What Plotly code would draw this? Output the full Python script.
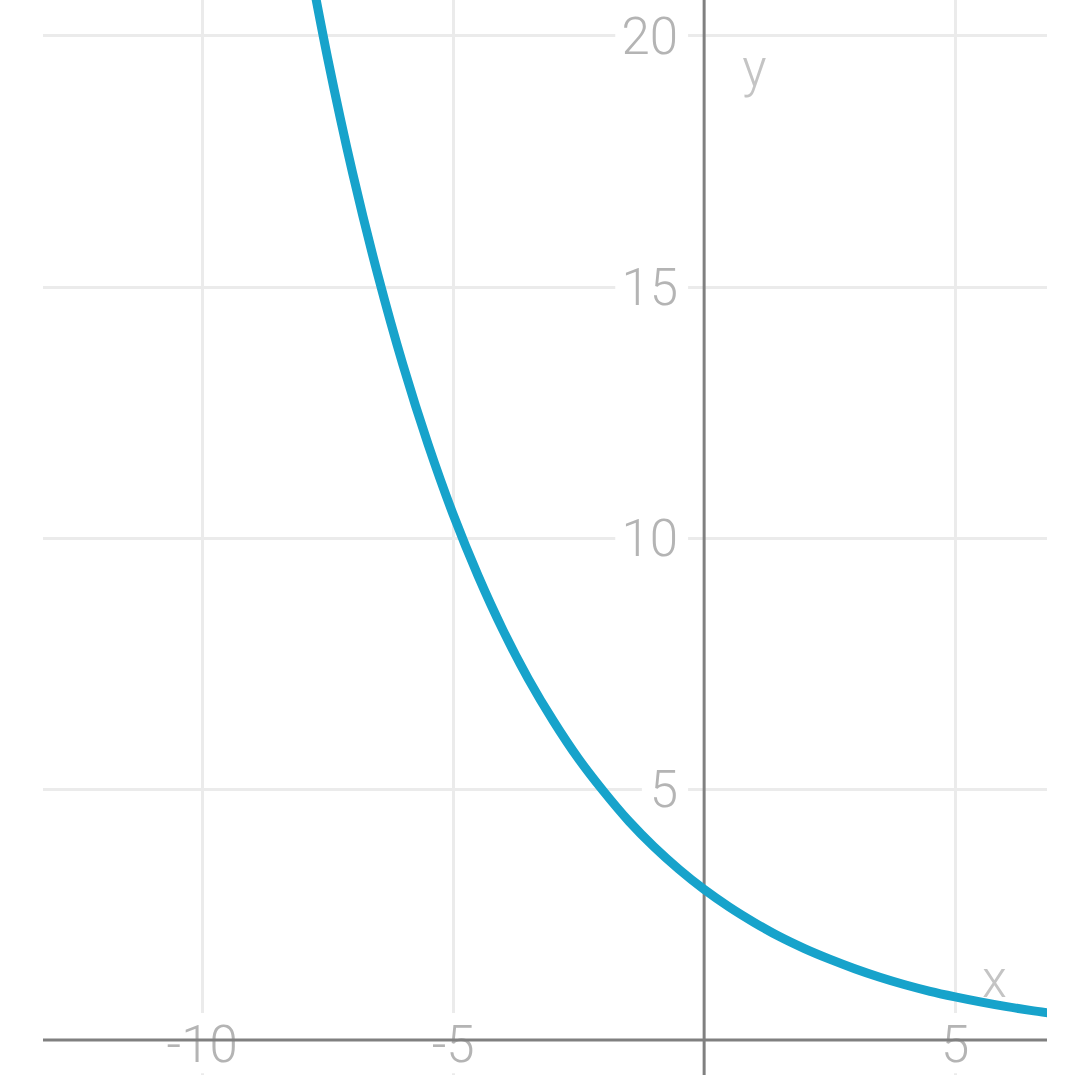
import plotly.graph_objects as go

# Curve values
x_vals = [-8.0, -7.5, -7.0, -6.5, -6.0, -5.5, -5.0, -4.5, -4.0, -3.5, -3.0, -2.5, -2.0, -1.5,
          -1.0, -0.5, 0.0, 0.5, 1.0, 1.5, 2.0, 2.5, 3.0, 3.5, 4.0, 4.5, 5.0, 5.5, 6.0, 6.5, 7.0]
y_vals = [22.17, 19.56, 17.26, 15.24, 13.45, 11.87, 10.47, 9.24, 8.15, 7.19, 6.35, 5.60, 4.95, 4.36,
          3.85, 3.40, 3.00, 2.65, 2.34, 2.06, 1.82, 1.61, 1.42, 1.25, 1.10, 0.97, 0.86, 0.76, 0.67, 0.59, 0.52]

x_ticks = [-10, -5, 5]
x_tick_labels = ["-10", "-5", "5"]
y_ticks = [5, 10, 15, 20]
y_tick_labels = ["5", "10", "15", "20"]

x_range = [-13.17, 6.83]
y_range = [-0.697, 20.717]

FONT = "Roboto"
TICK_COLOR = "#b4b4b4"
AXIS_COLOR = "#808080"
GRID_COLOR = "#ebebeb"
CURVE_COLOR = "#17a3cb"
FS = 51

fig = go.Figure()

# tick labels
fig.add_trace(go.Scatter(
    x=x_ticks, y=[-0.19] * len(x_ticks), mode="text", text=x_tick_labels,
    textposition="middle center",
    textfont=dict(family=FONT, size=FS, color=TICK_COLOR, weight=300),
    hoverinfo="skip", showlegend=False, cliponaxis=False))
fig.add_trace(go.Scatter(
    x=[-0.52] * len(y_ticks), y=[v - 0.1 for v in y_ticks], mode="text", text=y_tick_labels,
    textposition="middle left",
    textfont=dict(family=FONT, size=FS, color=TICK_COLOR, weight=300),
    hoverinfo="skip", showlegend=False, cliponaxis=False))
# "0" label: sits just below the visible range and is cut by the bottom edge, as in the picture
fig.add_trace(go.Scatter(
    x=[-0.52], y=[-0.87], mode="text", text=["0"], textposition="middle left",
    textfont=dict(family=FONT, size=FS, color=TICK_COLOR, weight=300),
    hoverinfo="skip", showlegend=False, cliponaxis=True))
# axis titles
fig.add_trace(go.Scatter(
    x=[1.0, 5.78], y=[19.25, 1.12], mode="text", text=["y", "x"],
    textposition="middle center",
    textfont=dict(family=FONT, size=FS, color="#c4c4c4", weight=300),
    hoverinfo="skip", showlegend=False))

# axis lines
fig.add_trace(go.Scatter(x=x_range, y=[0, 0], mode="lines",
                         line=dict(color=AXIS_COLOR, width=3),
                         hoverinfo="skip", showlegend=False))
fig.add_trace(go.Scatter(x=[0, 0], y=y_range, mode="lines",
                         line=dict(color=AXIS_COLOR, width=3),
                         hoverinfo="skip", showlegend=False))

# curve
fig.add_trace(go.Scatter(x=x_vals, y=y_vals, mode="lines",
                         line=dict(color=CURVE_COLOR, width=9, shape="spline", smoothing=1.0),
                         hoverinfo="skip", showlegend=False))

# white masks behind tick labels (hide gridlines)
shapes = []
for t in x_ticks:
    shapes.append(dict(type="rect", xref="x", yref="y", layer="between",
                       x0=t - 0.3, x1=t + 0.3, y0=-0.66, y1=0.54,
                       fillcolor="white", line=dict(width=0)))
for t, lab in zip(y_ticks, y_tick_labels):
    left = -1.77 if len(lab) == 2 else -1.24
    shapes.append(dict(type="rect", xref="x", yref="y", layer="between",
                       x0=left, x1=-0.32, y0=t - 0.3, y1=t + 0.3,
                       fillcolor="white", line=dict(width=0)))

fig.update_layout(
    width=1080, height=1075,
    margin=dict(l=43, r=33, t=0, b=0),
    paper_bgcolor="white", plot_bgcolor="white",
    showlegend=False,
    shapes=shapes,
    xaxis=dict(range=x_range, tickvals=x_ticks, showticklabels=False,
               showgrid=True, gridcolor=GRID_COLOR, gridwidth=3,
               zeroline=False, showline=False, fixedrange=True),
    yaxis=dict(range=y_range, tickvals=y_ticks, showticklabels=False,
               showgrid=True, gridcolor=GRID_COLOR, gridwidth=3,
               zeroline=False, showline=False, fixedrange=True),
)

fig.write_html("out.html", config={"displayModeBar": False},
               post_script="document.body.style.margin='0';document.body.style.overflow='hidden';")
